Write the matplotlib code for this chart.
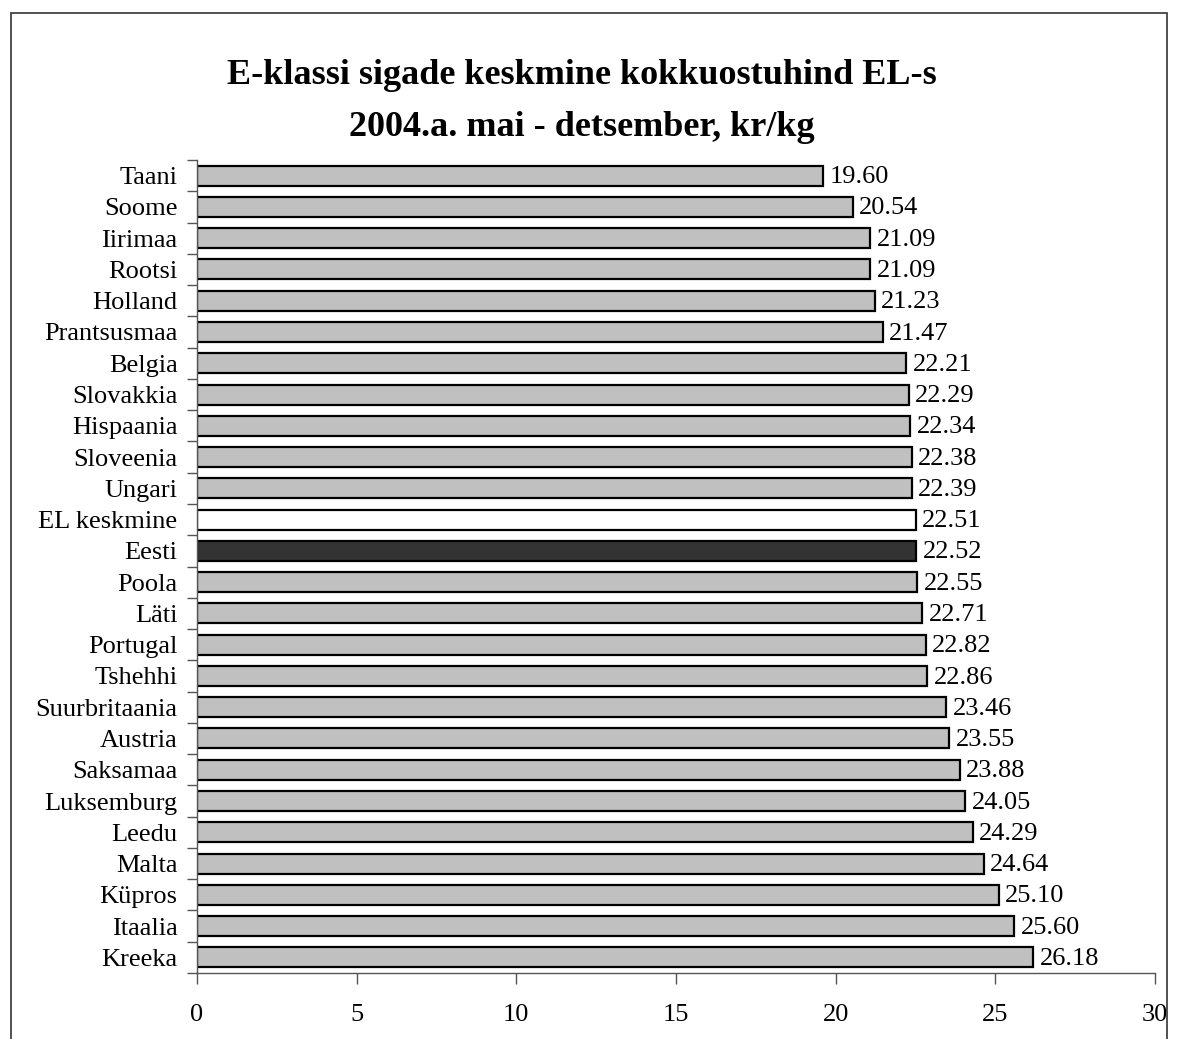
import matplotlib
matplotlib.use("Agg")
import matplotlib.pyplot as plt
from matplotlib.patches import Rectangle

countries = ['Taani', 'Soome', 'Iirimaa', 'Rootsi', 'Holland', 'Prantsusmaa', 'Belgia',
             'Slovakkia', 'Hispaania', 'Sloveenia', 'Ungari', 'EL keskmine', 'Eesti',
             'Poola', 'Läti', 'Portugal', 'Tshehhi', 'Suurbritaania', 'Austria',
             'Saksamaa', 'Luksemburg', 'Leedu', 'Malta', 'Küpros', 'Itaalia', 'Kreeka']
prices = [19.60, 20.54, 21.09, 21.09, 21.23, 21.47, 22.21, 22.29, 22.34, 22.38, 22.39,
          22.51, 22.52, 22.55, 22.71, 22.82, 22.86, 23.46, 23.55, 23.88, 24.05, 24.29,
          24.64, 25.10, 25.60, 26.18]
x_ticks = [0, 5, 10, 15, 20, 25, 30]

plt.rcParams['font.family'] = ['Liberation Serif', 'DejaVu Serif']

colors = []
for name in countries:
    if name == 'Eesti':
        colors.append('#333333')
    elif name == 'EL keskmine':
        colors.append('white')
    else:
        colors.append('#c0c0c0')

fig = plt.figure(figsize=(11.77, 10.39), dpi=100)
ax = fig.add_axes([197 / 1177, 1 - 973 / 1039, (1155 - 197) / 1177, (973 - 160) / 1039])

ypos = list(range(len(countries)))
ax.barh(ypos, prices, height=0.64, color=colors, edgecolor='black', linewidth=1.6)
for y, v in zip(ypos, prices):
    ax.text(v + 0.2, y + 0.05, f'{v:.2f}', va='center', ha='left', fontsize=19)

ax.set_ylim(len(countries) - 0.5, -0.5)
ax.set_xlim(0, 30)
ax.set_xticks(x_ticks)
ax.set_xticklabels([str(t) for t in x_ticks], fontsize=19)
ax.set_yticks([y - 0.5 for y in range(len(countries) + 1)])
ax.set_yticklabels([])
ax.set_yticks(ypos, minor=True)
ax.set_yticklabels(countries, minor=True, fontsize=19)
ax.tick_params(axis='y', which='minor', length=0, pad=14)
ax.tick_params(axis='y', which='major', length=7, width=1, color='#555555')
ax.tick_params(axis='x', length=8, width=1, pad=14, color='#555555')
for s in ['top', 'right']:
    ax.spines[s].set_visible(False)
for s in ['left', 'bottom']:
    ax.spines[s].set_color('#555555')
    ax.spines[s].set_linewidth(1)

fig.text(0.494, 1 - 75 / 1039, 'E-klassi sigade keskmine kokkuostuhind EL-s',
         ha='center', va='center', fontsize=26, fontweight='bold')
fig.text(0.494, 1 - 127 / 1039, '2004.a. mai - detsember, kr/kg',
         ha='center', va='center', fontsize=26, fontweight='bold')

fig.patches.append(Rectangle((11 / 1177, -0.05), (1167 - 11) / 1177, 1.05 - 13 / 1039,
                             transform=fig.transFigure, fill=False, edgecolor='#333333',
                             linewidth=1.2, clip_on=False))

fig.savefig('out.png', dpi=100)
